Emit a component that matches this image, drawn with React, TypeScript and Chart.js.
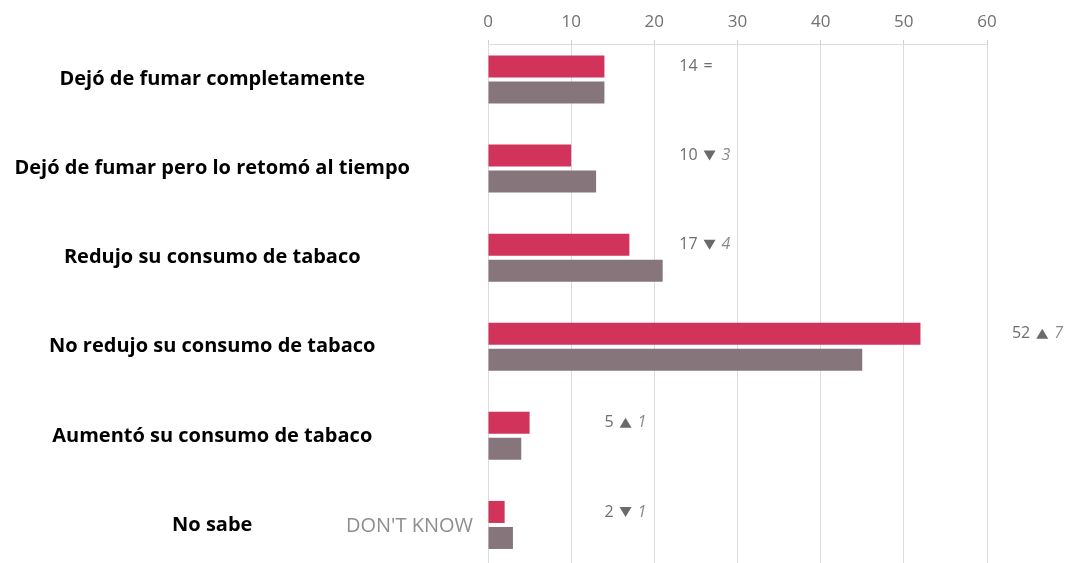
import React, { useEffect, useRef } from "react";
import { Chart, registerables } from "chart.js";

Chart.register(...registerables);

const categories = [
  "Dejó de fumar completamente",
  "Dejó de fumar pero lo retomó al tiempo",
  "Redujo su consumo de tabaco",
  "No redujo su consumo de tabaco",
  "Aumentó su consumo de tabaco",
  "No sabe",
];
const currentValues = [14, 10, 17, 52, 5, 2];
const previousValues = [14, 13, 21, 45, 4, 3];
// x value (in axis units) where each value/change annotation starts
const annotationAnchor = [23, 23, 23, 63, 14, 14];
const overlayLabel = "DON'T KNOW";

const RED = "#d2335a";
const GREY = "#86767b";

const annotationPlugin = {
  id: "annotations",
  afterDatasetsDraw(chart: any) {
    const ctx = chart.ctx;
    const xs = chart.scales.x;
    const ys = chart.scales.y;
    const meta = chart.getDatasetMeta(0);
    ctx.save();
    ctx.textBaseline = "middle";
    ctx.textAlign = "left";
    categories.forEach((_, i) => {
      const bar = meta.data[i];
      const y = bar.y;
      let x = xs.getPixelForValue(annotationAnchor[i]);
      const diff = currentValues[i] - previousValues[i];
      ctx.font = '16px "Open Sans", "DejaVu Sans", sans-serif';
      ctx.fillStyle = "#6e6e6e";
      const txt = String(currentValues[i]);
      ctx.fillText(txt, x, y);
      x += ctx.measureText(txt).width + 6;
      if (diff === 0) {
        ctx.fillText("=", x, y);
      } else {
        const w = 12;
        const h = 10;
        ctx.beginPath();
        if (diff > 0) {
          ctx.moveTo(x, y + h / 2);
          ctx.lineTo(x + w, y + h / 2);
          ctx.lineTo(x + w / 2, y - h / 2);
        } else {
          ctx.moveTo(x, y - h / 2);
          ctx.lineTo(x + w, y - h / 2);
          ctx.lineTo(x + w / 2, y + h / 2);
        }
        ctx.closePath();
        ctx.fillStyle = "#6a6a6a";
        ctx.fill();
        x += w + 6;
        ctx.font = 'italic 16px "Open Sans", "DejaVu Sans", sans-serif';
        ctx.fillStyle = "#8a8a8a";
        ctx.fillText(String(Math.abs(diff)), x, y);
      }
    });
    // stray English label overlay next to the last category
    ctx.font = '20px "Open Sans", "DejaVu Sans", sans-serif';
    ctx.fillStyle = "#8e8e8e";
    ctx.textAlign = "right";
    ctx.fillText(overlayLabel, xs.left - 15, ys.getPixelForValue(categories.length - 1) + 1);
    ctx.restore();
  },
};

export default function App() {
  const ref = useRef<HTMLCanvasElement>(null);

  useEffect(() => {
    if (!ref.current) return;
    const chart = new Chart(ref.current, {
      type: "bar",
      data: {
        datasets: [
          {
            label: "Actual",
            data: currentValues.map((v, i) => ({ x: v, y: i })),
            backgroundColor: RED,
            categoryPercentage: 0.584,
            barPercentage: 0.846,
          },
          {
            label: "Anterior",
            data: previousValues.map((v, i) => ({ x: v, y: i })),
            backgroundColor: GREY,
            categoryPercentage: 0.584,
            barPercentage: 0.846,
          },
        ],
      },
      options: {
        indexAxis: "y",
        animation: false,
        responsive: false,
        devicePixelRatio: 1,
        layout: { padding: { left: 0, right: 87, top: 0, bottom: 0 } },
        plugins: {
          legend: { display: false },
          tooltip: { enabled: false },
        },
        scales: {
          x: {
            type: "linear",
            position: "top",
            min: 0,
            max: 60,
            ticks: {
              stepSize: 10,
              color: "#707070",
              font: { family: '"Open Sans", sans-serif', size: 17 },
              padding: 8,
            },
            grid: {
              color: "#dcdcdc",
              lineWidth: 1,
              tickLength: 4,
              tickColor: "#d0d0d0",
            },
            border: { display: true, color: "#dcdcdc" },
            afterFit(scale: any) {
              scale.height = 44;
            },
          },
          y: {
            type: "linear",
            reverse: true,
            offset: false,
            min: -0.398,
            max: 5.427,
            afterBuildTicks(scale: any) {
              scale.ticks = categories.map((_, i) => ({ value: i }));
            },
            ticks: {
              autoSkip: false,
              crossAlign: "center",
              padding: 78,
              color: "#000000",
              font: { family: '"Open Sans", sans-serif', size: 20, weight: "bold" },
              callback: (v: any) => categories[v as number] ?? "",
            },
            grid: { display: false, drawTicks: false, offset: false },
            border: { display: false },
            afterFit(scale: any) {
              scale.width = 488;
              scale.paddingTop = 0;
              scale.paddingBottom = 0;
            },
          },
        },
      },
      plugins: [annotationPlugin],
    } as any);
    return () => chart.destroy();
  }, []);

  return (
    <div style={{ position: "fixed", left: 0, top: 0, width: 1074, height: 563, background: "#ffffff" }}>
      <canvas ref={ref} width={1074} height={563} style={{ display: "block", width: 1074, height: 563 }} />
    </div>
  );
}
